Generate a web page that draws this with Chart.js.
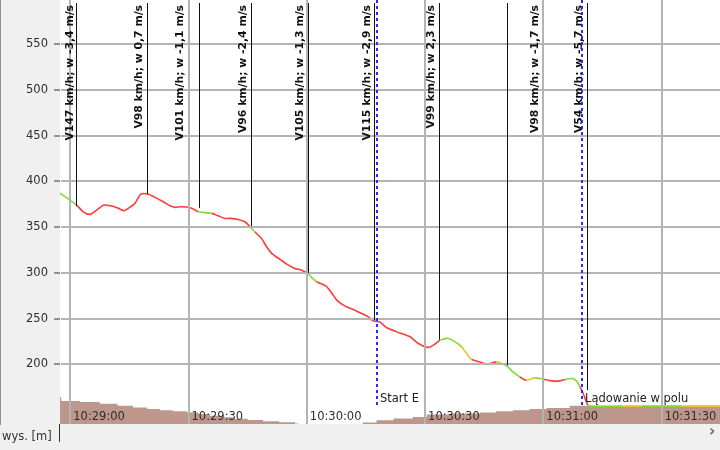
<!DOCTYPE html>
<html>
<head>
<meta charset="utf-8">
<script src="https://cdn.jsdelivr.net/npm/chart.js@4.4.1/dist/chart.umd.min.js"></script>
<style>
  html, body { margin: 0; padding: 0; background: #f0f0f0; }
  canvas { display: block; }
</style>
</head>
<body>
<canvas id="profil" width="720" height="450"></canvas>
<script>
// time is in seconds counted from 10:29:00, altitude in metres
var timeSec = [0, 30, 60, 90, 120, 150];
var timeLabels = ['10:29:00', '10:29:30', '10:30:00', '10:30:30', '10:31:00', '10:31:30'];
var altTicks = [200, 250, 300, 350, 400, 450, 500, 550];

var flightSec = [-2.6, -0.1, 1.6, 3.3, 5.0, 6.7, 8.6, 10.5, 12.2, 13.6, 14.7, 16.4, 17.9, 19.6, 21.5,
  23.6, 25.3, 26.6, 27.8, 29.5, 30.8, 32.5, 33.7, 35.9, 37.5, 39.2, 40.5, 42.6, 44.3, 45.6,
  46.8, 48.5, 49.8, 51.1, 53.2, 54.9, 57.0, 58.7, 60.2, 61.2, 62.5, 64.9, 66.7, 67.6, 69.7,
  71.8, 73.9, 75.6, 76.8, 78.5, 80.2, 82.8, 86.2, 88.3, 90.8, 92.5, 93.8, 95.9, 97.6, 99.3,
  100.5, 101.8, 103.9, 105.6, 106.9, 108.1, 109.2, 110.7, 112.3, 114.0, 115.7, 117.9, 120.0, 122.1, 124.2,
  125.5, 127.2, 128.4, 129.3, 130.1, 131.3, 131.8, 140, 145, 155, 165];
var flightAlt = [387, 379.5, 374.1, 366.7, 363.9, 368.6, 374.1, 373, 370.5, 367.8, 370.5, 375.9, 386.1, 386.1, 382.5,
  377.7, 373.3, 371.6, 372.2, 371.9, 370.5, 366.7, 366.1, 365, 362.4, 359.5, 359.5, 358.4, 355.8, 350.4,
  344.9, 337.7, 328.5, 321.3, 314.7, 309.6, 304.9, 303, 299.4, 295.1, 290.3, 285.6, 275.7, 270.3, 263.7,
  260.1, 255.7, 252, 247.6, 246.5, 240.4, 235.6, 230.2, 222.9, 218.6, 222.2, 226.6, 228.4, 224.7, 219.2,
  212, 205.5, 202.8, 200.3, 201.7, 202.8, 201.7, 198.5, 191.9, 186.4, 182.8, 185.4, 183.9, 182.1, 182.1,
  183.6, 184.7, 182.1, 175.5, 168.3, 155.5, 154.5, 154.5, 154.5, 154.5, 154.5];
// colour class of the segment that starts at each point
var flightState = ['g', 'g', 'r', 'r', 'r', 'r', 'r', 'r', 'r', 'r', 'r', 'r', 'r', 'r', 'r',
  'r', 'r', 'r', 'r', 'r', 'r', 'g', 'g', 'r', 'r', 'r', 'r', 'r', 'r', 'g',
  'r', 'r', 'r', 'r', 'r', 'r', 'r', 'r', 'g', 'g', 'r', 'r', 'r', 'r', 'r',
  'r', 'r', 'r', 'r', 'r', 'r', 'r', 'r', 'r', 'r', 'r', 'g', 'g', 'g', 'y',
  'y', 'r', 'r', 'r', 'r', 'y', 'g', 'g', 'g', 'r', 'y', 'g', 'r', 'r', 'r',
  'g', 'g', 'g', 'r', 'r', 'g', 'g', 'y', 'g', 'y', 'g'];

var terrainSec = [-2.6, -2.3, 2.5, 7.5, 12, 15.9, 19.5, 22.7, 26, 29.6, 32.5, 35.4, 38.5, 41.3, 45,
  48.9, 53, 57, 57.8, 73.5, 74.2, 77.7, 82, 86.9, 90.4, 97, 103.9, 108, 112.3, 116.5,
  120.8, 126.7, 165];
var terrainAlt = [164.5, 160.2, 159.1, 157.2, 155, 153, 151.5, 150.1, 149, 147.5, 146, 144.1, 142.5, 140.8, 139.5,
  138, 136.8, 135.5, 125, 125, 136.6, 139.1, 141, 142.7, 145.4, 146.5, 147.5, 149, 150.1, 151.5,
  152.6, 154.8, 154.8];

// thin black marks: time and altitude where they meet the track
var markSec = [1.45, 19.45, 32.56, 45.75, 60.33, 77.02, 93.5, 110.75, 131.05];
var markAlt = [373, 386, 371, 351, 300, 248, 227, 199, 172];
var noteSec = [-0.08, 17.42, 27.82, 43.8, 58.25, 75.37, 91.47, 117.84, 129.13];
var noteText = ['V147 km/h; w -3,4 m/s', 'V98 km/h; w 0,7 m/s', 'V101 km/h; w -1,1 m/s',
  'V96 km/h; w -2,4 m/s', 'V105 km/h; w -1,3 m/s', 'V115 km/h; w -2,9 m/s',
  'V99 km/h; w 2,3 m/s', 'V98 km/h; w -1,7 m/s', 'V54 km/h; w -5,7 m/s'];

var phaseSec = [77.86, 129.85];
var phaseText = ['Start E', 'Lądowanie w polu'];

var stateColor = { r: '#ff3c3c', g: '#80dc30', y: '#ecc22c' };
var FONT = 'DejaVu Sans';

function toPoints(xs, ys) {
  var pts = [];
  for (var i = 0; i < xs.length; i++) {
    pts.push({ x: xs[i], y: ys[i] });
  }
  return pts;
}

var extras = {
  id: 'extras',
  beforeDraw: function(chart) {
    var c = chart.ctx, a = chart.chartArea;
    c.save();
    c.fillStyle = '#f0f0f0';
    c.fillRect(0, 0, chart.width, chart.height);
    c.fillStyle = '#ffffff';
    c.fillRect(a.left, a.top, a.right - a.left, a.bottom - a.top);
    c.restore();
  },
  afterDraw: function(chart) {
    var c = chart.ctx, a = chart.chartArea;
    var xs = chart.scales.x, ys = chart.scales.y;
    c.save();
    c.beginPath();
    c.rect(a.left, a.top, a.right - a.left, a.bottom - a.top);
    c.clip();

    // black marks down to the track
    c.strokeStyle = '#111';
    c.lineWidth = 1;
    for (var i = 0; i < markSec.length; i++) {
      var mx = Math.round(xs.getPixelForValue(markSec[i])) + 0.5;
      c.beginPath();
      c.moveTo(mx, a.top + 3);
      c.lineTo(mx, ys.getPixelForValue(markAlt[i]));
      c.stroke();
    }

    // rotated notes
    c.fillStyle = '#111';
    c.font = 'bold 10.8px "' + FONT + '"';
    c.textAlign = 'right';
    c.textBaseline = 'middle';
    for (var j = 0; j < noteSec.length; j++) {
      c.save();
      c.translate(xs.getPixelForValue(noteSec[j]), a.top + 5);
      c.rotate(-Math.PI / 2);
      c.fillText(noteText[j], 0, 0);
      c.restore();
    }

    // start / landing
    c.strokeStyle = '#2a2aff';
    c.lineWidth = 2;
    c.setLineDash([3, 3]);
    c.font = '11.5px "' + FONT + '"';
    c.textAlign = 'left';
    for (var k = 0; k < phaseSec.length; k++) {
      var px = Math.round(xs.getPixelForValue(phaseSec[k]));
      c.beginPath();
      c.moveTo(px, a.top);
      c.lineTo(px, a.bottom - 16);
      c.stroke();
      c.fillStyle = '#222';
      c.fillText(phaseText[k], px + 3, a.bottom - 25);
    }
    c.restore();

    // axis line runs into the bottom band
    c.save();
    c.strokeStyle = '#333';
    c.lineWidth = 1;
    c.beginPath();
    c.moveTo(a.left - 0.5, a.bottom);
    c.lineTo(a.left - 0.5, a.bottom + 18);
    c.stroke();
    c.fillStyle = '#333';
    c.font = '11.5px "' + FONT + '"';
    c.textBaseline = 'middle';
    c.textAlign = 'left';
    c.fillText('wys. [m]', 2, a.bottom + 13);
    c.fillStyle = '#666';
    c.font = 'bold 15px "' + FONT + '"';
    c.fillText('\u203A', 709, a.bottom + 8);
    c.restore();
  }
};

var ctx = document.getElementById('profil').getContext('2d');
var chart = new Chart(ctx, {
  type: 'line',
  data: {
    datasets: [{
      label: 'lot',
      data: toPoints(flightSec, flightAlt),
      borderColor: stateColor.r,
      borderWidth: 1.6,
      pointRadius: 0,
      tension: 0.25,
      fill: false,
      segment: {
        borderColor: function(s) { return stateColor[flightState[s.p0DataIndex]]; }
      }
    }, {
      label: 'teren',
      data: toPoints(terrainSec, terrainAlt),
      borderWidth: 0,
      borderColor: 'rgba(0,0,0,0)',
      backgroundColor: '#bd978b',
      pointRadius: 0,
      stepped: true,
      fill: 'start'
    }]
  },
  options: {
    responsive: false,
    animation: false,
    devicePixelRatio: 1,
    layout: { padding: 0 },
    plugins: { legend: { display: false }, tooltip: { enabled: false } },
    scales: {
      x: {
        type: 'linear',
        min: -2.6,
        max: 164.8,
        afterBuildTicks: function(s) {
          s.ticks = timeSec.map(function(v) { return { value: v }; });
        },
        afterFit: function(s) { s.height = 26; s.paddingLeft = 0; s.paddingRight = 0; },
        border: { display: false },
        grid: { color: '#b4b4b4', lineWidth: 2, drawTicks: false, z: 1 },
        ticks: {
          mirror: true,
          align: 'start',
          labelOffset: 3,
          padding: 0,
          maxRotation: 0,
          autoSkip: false,
          color: '#2e2e2e',
          font: { family: FONT, size: 11.5 },
          z: 1,
          callback: function(v, i) { return timeLabels[i]; }
        }
      },
      y: {
        min: 135,
        max: 598,
        afterBuildTicks: function(s) {
          s.ticks = altTicks.map(function(v) { return { value: v }; });
        },
        afterFit: function(s) { s.width = 60; s.paddingTop = 0; s.paddingBottom = 0; },
        border: { display: true, color: '#333', width: 1 },
        grid: { color: '#b4b4b4', lineWidth: 2, tickLength: 6, tickColor: '#333', tickWidth: 1, z: 1 },
        ticks: {
          padding: 6,
          color: '#2e2e2e',
          font: { family: FONT, size: 11.5 },
          z: 1
        }
      }
    }
  },
  plugins: [extras]
});
</script>
</body>
</html>
